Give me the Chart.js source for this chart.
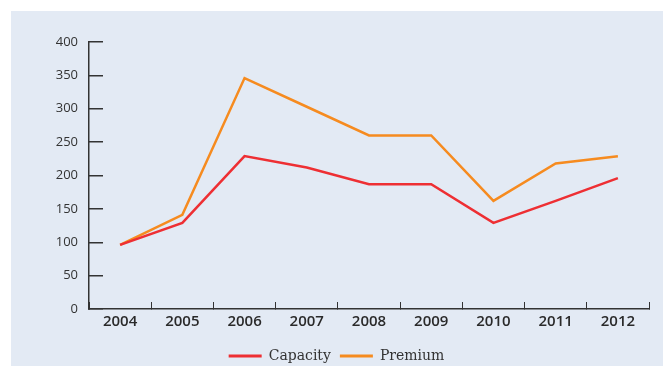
<!DOCTYPE html>
<html>
<head>
<meta charset="utf-8">
<script src="https://cdn.jsdelivr.net/npm/chart.js@4"></script>
<style>
  html, body { margin: 0; padding: 0; background: #ffffff; }
  #wrap { position: relative; width: 663px; height: 366px; }
  #panel { position: absolute; left: 11px; top: 11px; right: 0; bottom: 0; background: #e3eaf4; }
  #progressChart { position: absolute; left: 0; top: 0; }
</style>
</head>
<body>
<div id="wrap">
  <div id="panel"></div>
  <canvas id="progressChart" width="663" height="366"></canvas>
</div>
<script>
// Years on the x axis
const years = ['2004', '2005', '2006', '2007', '2008', '2009', '2010', '2011', '2012'];

// Series values
const capacity = [96, 129, 229, 212, 187, 187, 129, 162, 196];
const premium = [96, 141, 346, 303, 260, 260, 162, 218, 229];

// Y tick values
const yTicks = [0, 50, 100, 150, 200, 250, 300, 350, 400];

const axisColor = '#333333';

const ctx = document.getElementById('progressChart').getContext('2d');

new Chart(ctx, {
    type: 'line',
    data: {
        labels: years,
        datasets: [{
            label: 'Capacity',
            data: capacity,
            borderColor: '#ee2f33',
            backgroundColor: '#ee2f33',
            borderWidth: 2.5,
            pointRadius: 0,
            tension: 0
        }, {
            label: 'Premium',
            data: premium,
            borderColor: '#f68b1f',
            backgroundColor: '#f68b1f',
            borderWidth: 2.5,
            pointRadius: 0,
            tension: 0
        }]
    },
    options: {
        responsive: false,
        animation: false,
        layout: { padding: { top: 42, right: 14, left: 24, bottom: -7 } },
        plugins: {
            tooltip: { enabled: false },
            legend: {
                display: true,
                position: 'bottom',
                labels: {
                    boxWidth: 33,
                    boxHeight: 3,
                    padding: 9,
                    color: '#333333',
                    font: { family: 'DejaVu Serif', size: 14 },
                    // flat line swatches without the outline stroke
                    generateLabels: (chart) => Chart.defaults.plugins.legend.labels
                        .generateLabels(chart)
                        .map(item => Object.assign(item, { lineWidth: 0 }))
                }
            }
        },
        scales: {
            x: {
                type: 'category',
                offset: true,
                afterFit: (scale) => { scale.height = 31; },
                border: { display: true, color: axisColor, width: 1.5 },
                grid: {
                    offset: true,
                    drawOnChartArea: false,
                    color: axisColor,
                    lineWidth: 1,
                    tickLength: -7
                },
                ticks: {
                    padding: 11,
                    color: '#2a2a2a',
                    font: { family: 'Open Sans', size: 15, weight: '600' }
                }
            },
            y: {
                min: 0,
                max: 400,
                afterFit: (scale) => { scale.width = 65; },
                afterBuildTicks: (scale) => { scale.ticks = yTicks.map(v => ({ value: v })); },
                border: { display: true, color: axisColor, width: 1.5 },
                grid: {
                    drawOnChartArea: false,
                    color: axisColor,
                    lineWidth: 1.5,
                    tickLength: -14
                },
                ticks: {
                    padding: 25,
                    color: '#333333',
                    font: { family: 'Open Sans', size: 13 }
                }
            }
        }
    }
});
</script>
</body>
</html>
